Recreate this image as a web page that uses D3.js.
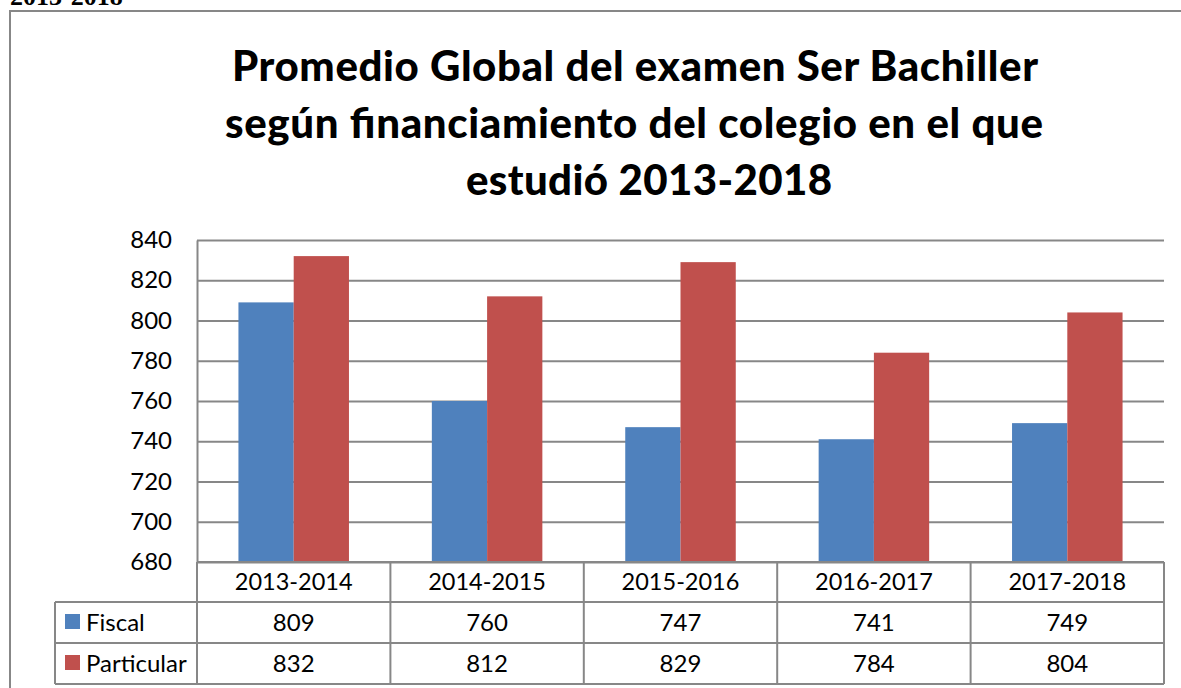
<!DOCTYPE html>
<html>
<head>
<meta charset="utf-8">
<script src="https://cdn.jsdelivr.net/npm/d3@7"></script>
<style>
  body { margin: 0; background: #fff; }
  text { font-family: Lato, "Open Sans", sans-serif; fill: #000; }
</style>
</head>
<body>
<div id="chart"></div>
<script>
// Data
var years = ["2013-2014", "2014-2015", "2015-2016", "2016-2017", "2017-2018"];
var seriesNames = ["Fiscal", "Particular"];
var fiscal = [809, 760, 747, 741, 749];
var particular = [832, 812, 829, 784, 804];
var yTicks = [680, 700, 720, 740, 760, 780, 800, 820, 840];
var titleLines = ["Promedio Global del examen Ser Bachiller",
                  "según financiamiento del colegio en el que",
                  "estudió 2013-2018"];

var colors = {"Fiscal": "#4f81bd", "Particular": "#c0504d"};
var gridColor = "#878787";

var W = 1181, H = 688;
var plot = {left: 197, right: 1164, top: 240, bottom: 562};
var rowH = [40, 41, 41]; // header row, Fiscal row, Particular row
var tableLeft = 55;

var svg = d3.select("#chart")
  .append("svg")
    .attr("width", W)
    .attr("height", H);

// text above the chart frame (cut off at the top in the original)
svg.append("text")
    .attr("x", 10)
    .attr("y", 5)
    .style("font-family", "'Liberation Serif', serif")
    .style("font-weight", "bold")
    .style("font-size", "26px")
    .text("2013-2018");

// chart frame, runs off the right and bottom edges
svg.append("rect")
    .attr("x", 10)
    .attr("y", 11)
    .attr("width", W + 20)
    .attr("height", H + 20)
    .attr("fill", "none")
    .attr("stroke", gridColor)
    .attr("stroke-width", 2);

// Title (stretched to the width of the original lines)
var titleY = [81, 138, 195];
var titleLeft = [232, 225, 466];
var titleWidth = [806, 818, 366];
svg.append("g")
  .selectAll("text")
  .data(titleLines)
  .enter()
  .append("text")
    .attr("x", function(d, i) { return titleLeft[i]; })
    .attr("y", function(d, i) { return titleY[i]; })
    .attr("textLength", function(d, i) { return titleWidth[i]; })
    .attr("lengthAdjust", "spacing")
    .style("font-weight", "900")
    .style("font-size", "42px")
    .text(function(d) { return d; });

// Scales
var x0 = d3.scaleBand()
    .domain(years)
    .range([plot.left, plot.right])
    .padding(0);

// Excel style gap width 150%
var barW = x0.bandwidth() / 3.5;
var x1 = d3.scaleBand()
    .domain(seriesNames)
    .range([0.75 * barW, 2.75 * barW]);

var y = d3.scaleLinear()
    .domain([680, 840])
    .range([plot.bottom, plot.top]);

// Y axis with gridlines
var yAxis = svg.append("g")
    .attr("transform", "translate(" + plot.left + ",0)")
    .call(d3.axisLeft(y)
      .tickValues(yTicks)
      .tickSize(-(plot.right - plot.left))
      .tickSizeOuter(0)
      .tickPadding(25));

yAxis.selectAll("line")
    .attr("stroke", gridColor)
    .attr("stroke-width", 2);
yAxis.select(".domain")
    .attr("stroke", gridColor)
    .attr("stroke-width", 2);
yAxis.selectAll("text")
    .style("font-family", "Lato, sans-serif")
    .style("font-size", "24px")
    .attr("fill", "#000");

// Bars
var barData = [];
years.forEach(function(yr, i) {
  barData.push({year: yr, series: "Fiscal", value: fiscal[i]});
  barData.push({year: yr, series: "Particular", value: particular[i]});
});

svg.append("g")
  .selectAll("rect")
  .data(barData)
  .enter()
  .append("rect")
    .attr("x", function(d) { return x0(d.year) + x1(d.series); })
    .attr("y", function(d) { return y(d.value); })
    .attr("width", x1.bandwidth())
    .attr("height", function(d) { return y(680) - y(d.value); })
    .attr("fill", function(d) { return colors[d.series]; });

// redraw bottom gridline over the bars
svg.append("line")
    .attr("x1", plot.left).attr("x2", plot.right)
    .attr("y1", y(680)).attr("y2", y(680))
    .attr("stroke", gridColor).attr("stroke-width", 2);

// Data table under the plot
var rowTops = [plot.bottom, plot.bottom + rowH[0], plot.bottom + rowH[0] + rowH[1]];
var tableBottom = rowTops[2] + rowH[2];
var table = svg.append("g");

// horizontal rules
[rowTops[1], rowTops[2], tableBottom].forEach(function(ry) {
  table.append("line")
      .attr("x1", tableLeft).attr("x2", plot.right)
      .attr("y1", ry).attr("y2", ry)
      .attr("stroke", gridColor).attr("stroke-width", 2);
});

// vertical rules
var colEdges = years.map(function(d) { return x0(d); }).concat([plot.right]);
colEdges.forEach(function(cx) {
  table.append("line")
      .attr("x1", cx).attr("x2", cx)
      .attr("y1", plot.bottom).attr("y2", tableBottom)
      .attr("stroke", gridColor).attr("stroke-width", 2);
});
table.append("line")
    .attr("x1", tableLeft).attr("x2", tableLeft)
    .attr("y1", rowTops[1]).attr("y2", tableBottom)
    .attr("stroke", gridColor).attr("stroke-width", 2);

// header: years
table.selectAll(".yr")
  .data(years)
  .enter()
  .append("text")
    .attr("class", "yr")
    .attr("x", function(d) { return x0(d) + x0.bandwidth() / 2; })
    .attr("y", rowTops[0] + 28)
    .attr("text-anchor", "middle")
    .style("font-size", "23.5px")
    .text(function(d) { return d; });

// series rows
var rows = [fiscal, particular];
seriesNames.forEach(function(name, r) {
  var top = rowTops[r + 1];
  table.append("rect")
      .attr("x", 65)
      .attr("y", top + 12)
      .attr("width", 15)
      .attr("height", 15)
      .attr("fill", colors[name]);
  table.append("text")
      .attr("x", 86)
      .attr("y", top + 29)
      .style("font-size", "24px")
      .text(name);
  table.selectAll(".v" + r)
    .data(rows[r])
    .enter()
    .append("text")
      .attr("x", function(d, i) { return x0(years[i]) + x0.bandwidth() / 2; })
      .attr("y", top + 29)
      .attr("text-anchor", "middle")
      .style("font-size", "24px")
      .text(function(d) { return d; });
});
</script>
</body>
</html>
